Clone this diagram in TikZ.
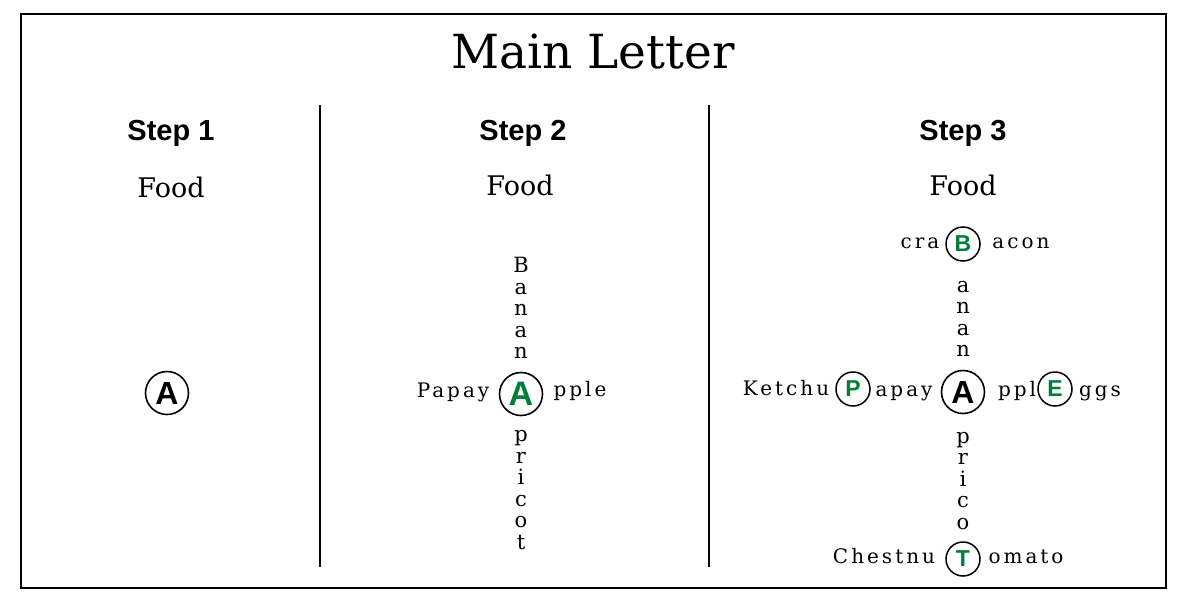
\documentclass[tikz,border=0pt]{standalone}
\usepackage{fontspec}
\setmainfont{DejaVu Serif}
\setsansfont{Liberation Sans}
\newfontfamily\spacedfont[LetterSpace=15]{DejaVu Serif}
\definecolor{lgreen}{RGB}{0,128,55}
\begin{document}
\begin{tikzpicture}[x=1pt,y=-1pt,
  bigc/.style={circle,draw,line width=1.6pt,minimum size=43pt,inner sep=0pt,font=\sffamily\bfseries\fontsize{32}{32}\selectfont},
  smallc/.style={circle,draw,line width=1.5pt,minimum size=34pt,inner sep=0pt,font=\sffamily\bfseries\fontsize{23}{23}\selectfont,text=lgreen},
  sp/.style={inner sep=0pt,anchor=base,font=\spacedfont\fontsize{20}{20}\selectfont},
  vstack/.style={inner sep=0pt,align=center,font=\fontsize{21}{21.5}\selectfont},
  stephead/.style={inner sep=0pt,anchor=base,font=\sffamily\bfseries\fontsize{29}{29}\selectfont},
  food/.style={inner sep=0pt,anchor=base,font=\fontsize{27}{27}\selectfont},
  divider/.style={line width=1.5pt}]
\useasboundingbox (0,0) rectangle (1185,600);
\node[draw,line width=1.5pt,minimum width=1145pt,minimum height=574pt,inner sep=0pt,anchor=north west] (frame) at (20,13) {};
\node[inner sep=0pt,anchor=base,font=\fontsize{47}{47}\selectfont] (title) at (593,68) {Main Letter};
\coordinate (d1t) at (320,105); \coordinate (d1b) at (320,567);
\coordinate (d2t) at (709,105); \coordinate (d2b) at (709,567);
\draw[divider] (d1t) -- (d1b);
\draw[divider] (d2t) -- (d2b);
% Step 1
\node[stephead] (s1) at (171,140) {Step 1};
\node[food] (f1) at (171,197) {Food};
\node[bigc] (a1) at (167,393) {A};
% Step 2
\node[stephead] (s2) at (523,140) {Step 2};
\node[food] (f2) at (520,195) {Food};
\node[bigc,text=lgreen,font=\sffamily\bfseries\fontsize{34}{34}\selectfont] (a2) at (521,394) {A};
\node[vstack] (v2t) at (521,308) {B\\a\\n\\a\\n};
\node[vstack] (v2b) at (521,490) {p\\r\\i\\c\\o\\t};
\node[sp] (papay) at (453,397) {Papay};
\node[sp] (pple) at (580,396) {pple};
% Step 3
\node[stephead] (s3) at (963,140) {Step 3};
\node[food] (f3) at (963,195) {Food};
\node[bigc] (a3) at (963,392) {A};
\node[smallc] (b3) at (963,244) {B};
\node[smallc] (p3) at (853,389) {P};
\node[smallc] (e3) at (1055,389) {E};
\node[smallc] (t3) at (963,559) {T};
\node[vstack] (v3t) at (963,319) {a\\n\\a\\n};
\node[vstack] (v3b) at (963,481) {p\\r\\i\\c\\o};
\node[sp] (cra) at (920,248) {cra};
\node[sp] (acon) at (1021,248) {acon};
\node[sp] (ketchu) at (786,395) {Ketchu};
\node[sp] (apay) at (904,396) {apay};
\node[sp] (ppl) at (1017,396) {ppl};
\node[sp] (ggs) at (1100,396) {ggs};
\node[sp] (chestnu) at (884,563) {Chestnu};
\node[sp] (omato) at (1026,563) {omato};
\end{tikzpicture}
\end{document}
